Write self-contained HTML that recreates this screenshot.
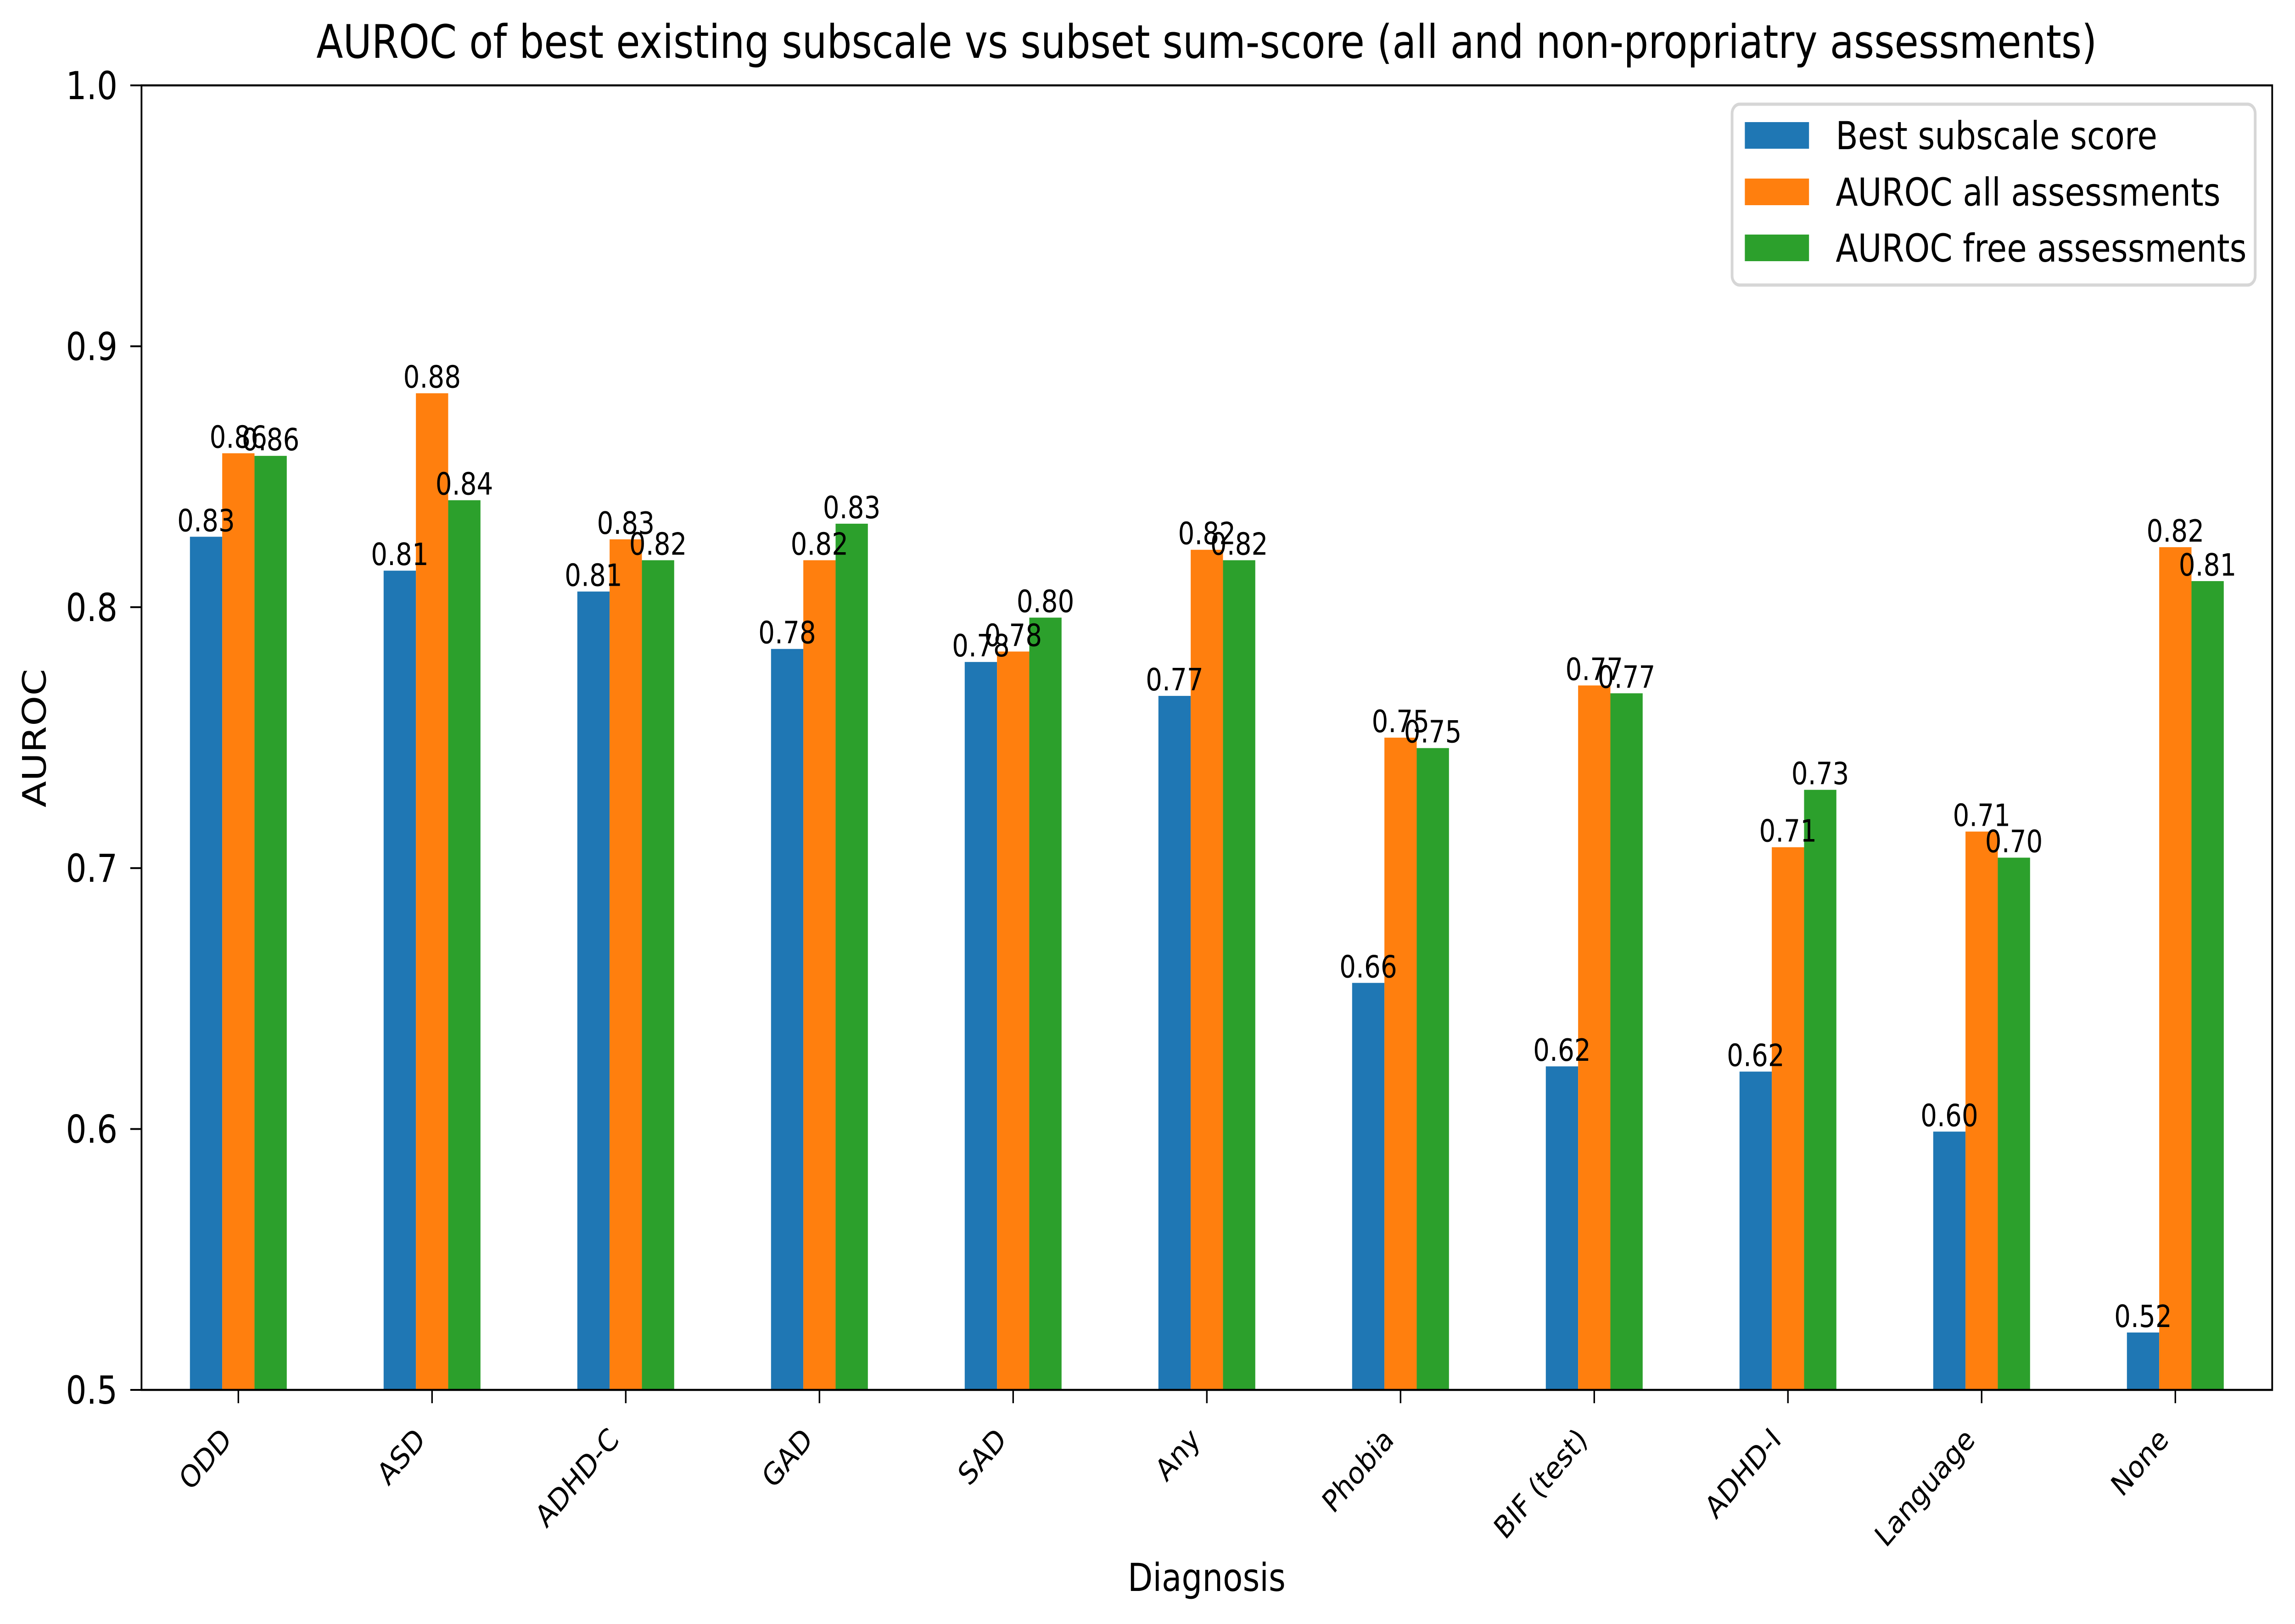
<!DOCTYPE html>
<html><head><meta charset="utf-8"><style>
html,body{margin:0;padding:0;background:#fff;width:100%;height:100%;overflow:hidden;}
svg{display:block;width:100vw;height:100vh;font-family:"DejaVu Sans","Liberation Sans",sans-serif;}
</style></head><body>
<svg id="chart" viewBox="0 0 5936 3538" preserveAspectRatio="none" xmlns="http://www.w3.org/2000/svg">
<rect x="0" y="0" width="5936" height="3538" fill="#fff"/>
<text x="3121" y="126" font-size="101" text-anchor="middle">AUROC of best existing subscale vs subset sum-score (all and non-propriatry assessments)</text>
<g id="bars"></g>
<g id="labels"></g>
<g id="axes"></g>
<text x="0" y="0" font-size="84" text-anchor="middle" transform="translate(118,1608) rotate(-90)">AUROC</text>
<text x="3121" y="3466" font-size="84" text-anchor="middle">Diagnosis</text>
<g>
<rect x="4480" y="227" width="1353" height="394" rx="20" fill="#fff" stroke="#d6d6d6" stroke-width="7"/>
<rect x="4513" y="266" width="166" height="58" fill="#1f77b4"/>
<text x="4748" y="325" font-size="84">Best subscale score</text>
<rect x="4513" y="389" width="166" height="58" fill="#ff7f0e"/>
<text x="4748" y="448" font-size="84">AUROC all assessments</text>
<rect x="4513" y="511" width="166" height="58" fill="#2ca02c"/>
<text x="4748" y="570" font-size="84">AUROC free assessments</text>
</g>
</svg>
<script>
const categories = ["ODD","ASD","ADHD-C","GAD","SAD","Any","Phobia","BIF (test)","ADHD-I","Language","None"];
const bestSubscale = [0.827,0.814,0.806,0.784,0.779,0.766,0.656,0.624,0.622,0.599,0.522];
const aurocAll = [0.859,0.882,0.826,0.818,0.783,0.822,0.750,0.770,0.708,0.714,0.823];
const aurocFree = [0.858,0.841,0.818,0.832,0.796,0.818,0.746,0.767,0.730,0.704,0.810];
const yTicks = [0.5,0.6,0.7,0.8,0.9,1.0];
const yTickLabels = ["0.5","0.6","0.7","0.8","0.9","1.0"];

const NS="http://www.w3.org/2000/svg";
const L=366, R=5877, T=186, B=3028;
const yMin=0.5, yMax=1.0;
const step=(R-L)/categories.length;
function xPos(i){return L+step*(i+0.5);}
function yPos(v){return B-(v-yMin)/(yMax-yMin)*(B-T);}
function mk(tag,attrs,parent){const e=document.createElementNS(NS,tag);for(const k in attrs)e.setAttribute(k,attrs[k]);parent.appendChild(e);return e;}

const barsG=document.getElementById('bars');
const labG=document.getElementById('labels');
const axG=document.getElementById('axes');
const series=[{vals:bestSubscale,color:'#1f77b4',name:'best'},{vals:aurocAll,color:'#ff7f0e',name:'all'},{vals:aurocFree,color:'#2ca02c',name:'free'}];
const bw=step/6;
series.forEach((s,si)=>{
  s.vals.forEach((v,i)=>{
    const cx=xPos(i)+(si-1)*bw;
    const y=yPos(v);
    const r=mk('rect',{x:cx-bw/2,y:y,width:bw,height:B-y,fill:s.color},barsG);
    
    
    const t=mk('text',{x:cx,y:y-12,'font-size':67,'text-anchor':'middle'},labG);
    t.textContent=v.toFixed(2);
    
    
  });
});
const sp=mk('rect',{x:L,y:T,width:R-L,height:B-T,fill:'none',stroke:'#000','stroke-width':4.5},axG);


yTicks.forEach((v,i)=>{
  const y=yPos(v);
  mk('line',{x1:L-29,x2:L,y1:y,y2:y,stroke:'#000','stroke-width':4},axG);
  const t=mk('text',{x:L-62,y:y+30,'font-size':84,'text-anchor':'end'},axG);
  t.textContent=yTickLabels[i];
  
  
});
categories.forEach((c,i)=>{
  const x=xPos(i);
  mk('line',{x1:x,x2:x,y1:B,y2:B+29,stroke:'#000','stroke-width':4},axG);
  const t=mk('text',{x:0,y:0,'font-size':67,'text-anchor':'end',transform:'translate('+(x-14)+','+(B+112)+') rotate(-45)'},axG);
  t.textContent=c;
  
  
});
</script>
</body></html>
